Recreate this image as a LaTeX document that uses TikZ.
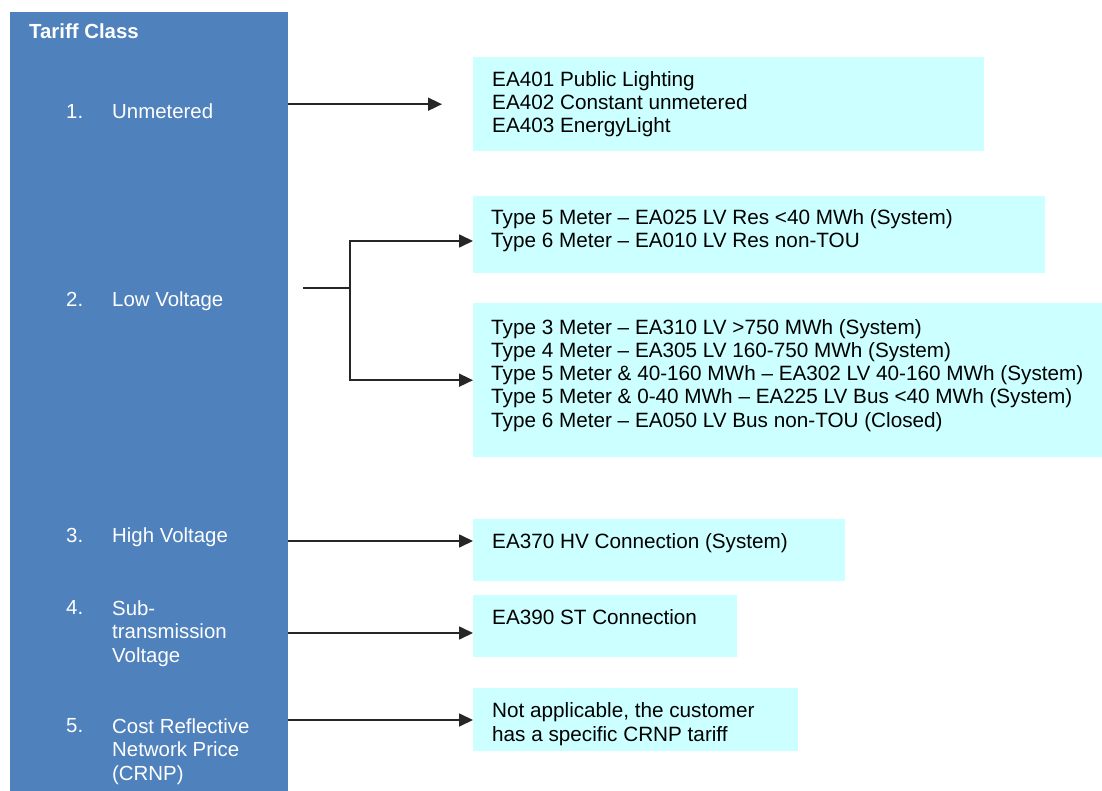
\documentclass[tikz,border=0pt]{standalone}
\usepackage{fontspec}
\setmainfont{Liberation Sans}
\usetikzlibrary{arrows.meta}
\definecolor{classblue}{RGB}{79,129,189}
\definecolor{tariffcyan}{RGB}{204,255,255}
\tikzset{
  classcol/.style={fill=classblue, draw=none, anchor=north west, inner sep=0},
  tbox/.style={fill=tariffcyan, draw=none, anchor=north west, inner sep=0},
  coltext/.style={text=white, anchor=base west, align=left, inner sep=0, font=\fontsize{20.4}{23.4}\selectfont},
  boxtext/.style={text=black, anchor=base west, align=left, inner sep=0, font=\fontsize{20.7}{23.2}\selectfont},
  feedline/.style={line width=1.7pt, draw=black!85},
  feed/.style={feedline, -{Triangle[length=14pt,width=13pt]}},
}
\begin{document}
\begin{tikzpicture}[x=1pt,y=-1pt]
    \useasboundingbox (0,0) rectangle (1102,791);
    \node[classcol, minimum width=278pt, minimum height=779pt] (tc) at (10,12) {};
    \node[coltext, font=\fontsize{20.4}{23.4}\selectfont\bfseries] (title) at (29,39) {Tariff Class};
    \node[coltext] (n1) at (66,119) {1.};
    \node[coltext] (c1) at (112,119) {Unmetered};
    \node[coltext] (n2) at (66,306) {2.};
    \node[coltext] (c2) at (112,306) {Low Voltage};
    \node[coltext] (n3) at (66,542) {3.};
    \node[coltext] (c3) at (112,542) {High Voltage};
    \node[coltext] (n4) at (66,614) {4.};
    \node[coltext] (c4) at (112,662) {Sub-\\transmission\\Voltage};
    \node[coltext] (n5) at (66,732) {5.};
    \node[coltext] (c5) at (112,780) {Cost Reflective\\Network Price\\(CRNP)};

    \node[tbox, minimum width=511pt, minimum height=94pt] (b1) at (473,57) {};
    \node[tbox, minimum width=572pt, minimum height=77pt] (b2) at (473,196) {};
    \node[tbox, minimum width=629pt, minimum height=154pt] (b3) at (473,303) {};
    \node[tbox, minimum width=372pt, minimum height=62pt] (b4) at (473,519) {};
    \node[tbox, minimum width=264pt, minimum height=62pt] (b5) at (473,595) {};
    \node[tbox, minimum width=325pt, minimum height=63pt] (b6) at (473,688) {};

    \node[boxtext] (t1) at (492,133) {EA401 Public Lighting\\EA402 Constant unmetered\\EA403 EnergyLight};
    \node[boxtext] (t2) at (491,248) {Type 5 Meter -- EA025 LV Res <40 MWh (System)\\Type 6 Meter -- EA010 LV Res non-TOU};
    \node[boxtext] (t3) at (491,427) {Type 3 Meter -- EA310 LV >750 MWh (System)\\Type 4 Meter -- EA305 LV 160-750 MWh (System)\\Type 5 Meter \& 40-160 MWh -- EA302 LV 40-160 MWh (System)\\Type 5 Meter \& 0-40 MWh -- EA225 LV Bus <40 MWh (System)\\Type 6 Meter -- EA050 LV Bus non-TOU (Closed)};
    \node[boxtext] (t4) at (492,548) {EA370 HV Connection (System)};
    \node[boxtext] (t5) at (492,624) {EA390 ST Connection};
    \node[boxtext] (t6) at (492,741) {Not applicable, the customer\\has a specific CRNP tariff};

    \coordinate (lvstub) at (303,288);
    \coordinate (lvfork) at (350,288);
    \draw[feed] (tc.east |- b1.west) -- ([xshift=-31pt]b1.west);
    \draw[feedline] (lvstub) -- (lvfork);
    \draw[feed] (lvfork) |- (b2.west |- 0,241);
    \draw[feed] (lvfork) |- (b3.west);
    \draw[feed] (tc.east |- 0,541) -- (b4.west |- 0,541);
    \draw[feed] (tc.east |- 0,633) -- (b5.west |- 0,633);
    \draw[feed] (tc.east |- 0,720) -- (b6.west |- 0,720);
\end{tikzpicture}
\end{document}
